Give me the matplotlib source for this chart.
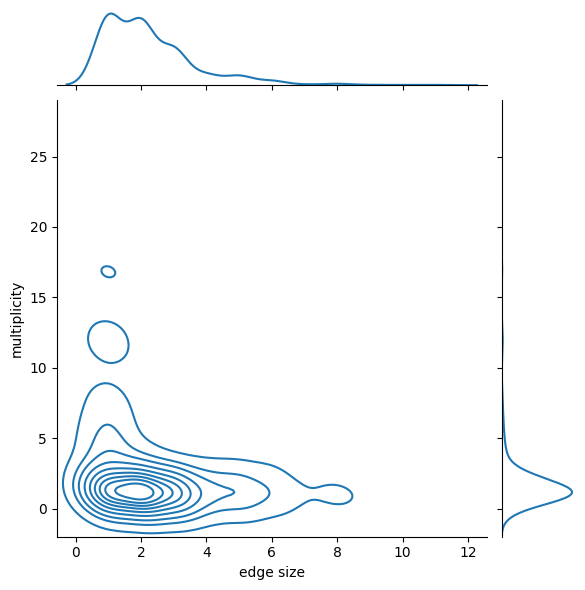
import numpy as np
import pandas as pd
import seaborn as sns
import matplotlib
matplotlib.use("Agg")
import matplotlib.pyplot as plt

# edge size / multiplicity pairs and how often each pair occurs
edge_size = [1, 1, 1, 1, 1, 1, 1, 1, 1, 1, 1, 1, 1, 1, 1, 1,
             2, 2, 2, 2, 2,
             3, 3, 3, 3,
             4, 4, 4, 4,
             5, 5, 5, 5,
             6, 6, 6, 6,
             7,
             8, 9, 10, 11]
multiplicity = [0, 1, 2, 3, 4, 5, 6, 7, 8, 9, 11, 12, 13, 16, 17, 26,
                0, 1, 2, 3, 4,
                0, 1, 2, 3,
                0, 1, 2, 3,
                0, 1, 2, 3,
                0, 1, 2, 3,
                1,
                1, 1, 1, 1]
count = [8, 80, 40, 12, 10, 8, 6, 4, 3, 1, 3, 4, 2, 1, 3, 1,
         14, 100, 45, 6, 3,
         11, 56, 28, 1,
         3, 15, 8, 1,
         3, 14, 7, 1,
         1, 7, 3, 1,
         2,
         4, 1, 1, 1]

df = pd.DataFrame({
    "edge size": np.repeat(edge_size, count),
    "multiplicity": np.repeat(multiplicity, count),
})

g = sns.jointplot(data=df, x="edge size", y="multiplicity", kind="kde")
g.ax_joint.set_ylim(-2, 29)
g.figure.savefig("out.png", dpi=100, bbox_inches="tight")
